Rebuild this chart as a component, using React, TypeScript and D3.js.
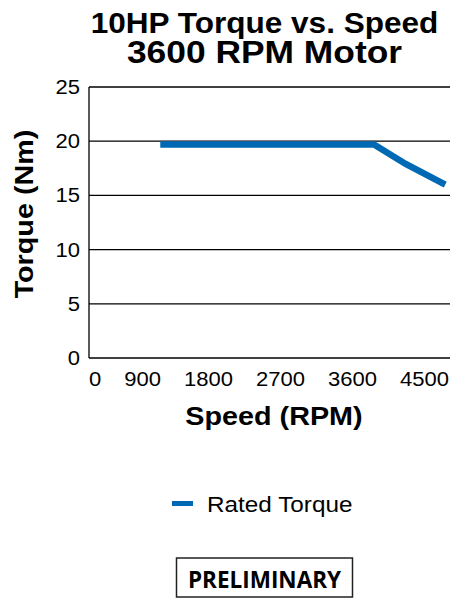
import React from "react";
import * as d3 from "d3";

const titleLines = ["10HP Torque vs. Speed", "3600 RPM Motor"];
const speedRpm = [900, 3600, 4000, 4500];
const ratedTorque = [19.7, 19.7, 17.9, 16.0];
const yTicks = [0, 5, 10, 15, 20, 25];
const xTickLabels = ["0", "900", "1800", "2700", "3600", "4500"];
const xTitle = "Speed (RPM)";
const yTitle = "Torque (Nm)";
const legendLabel = "Rated Torque";
const stampText = "PRELIMINARY";

const W = 451;
const H = 599;
const FONT = "'Liberation Sans', Arial, Helvetica, sans-serif";
const BLUE = "#0069b4";
const SX = 1.13; // horizontal widening to mimic the wider source font

export default function App() {
  const left = 89;
  const right = 450;
  const top = 87;
  const bottom = 358;

  const x = d3.scaleLinear().domain([0, 4560]).range([left, right]);
  const y = d3.scaleLinear().domain([0, 25]).range([bottom, top]);

  const pts: [number, number][] = speedRpm.map((s, i) => [s, ratedTorque[i]]);
  const line = d3
    .line<[number, number]>()
    .x((d) => x(d[0]))
    .y((d) => y(d[1]));

  // x tick labels: laid out with equal gaps across the axis width
  const tickFont = 19.5;
  const digitW = 0.556 * tickFont * SX;
  const widths = xTickLabels.map((l) => l.length * digitW);
  const totalW = d3.sum(widths);
  const gap = (449 - left - totalW) / (xTickLabels.length - 1);
  let cursor = left;
  const xLabelPos = widths.map((w) => {
    const c = cursor + w / 2;
    cursor += w + gap;
    return c;
  });

  return (
    <svg
      width={W}
      height={H}
      style={{ position: "absolute", left: 0, top: 0, background: "#fff" }}
      fontFamily={FONT}
    >
      <rect width={W} height={H} fill="#fff" />
      {/* title */}
      <text
        transform={`translate(264.5,32.5) scale(1.07,1)`}
        textAnchor="middle"
        fontSize={29.5}
        fontWeight="bold"
        fill="#000"
      >
        {titleLines[0]}
      </text>
      <text
        transform={`translate(264.5,63) scale(1.16,1)`}
        textAnchor="middle"
        fontSize={30.5}
        fontWeight="bold"
        fill="#000"
      >
        {titleLines[1]}
      </text>

      {/* gridlines */}
      {yTicks.map((t) => (
        <line
          key={"g" + t}
          x1={left}
          x2={right}
          y1={y(t)}
          y2={y(t)}
          stroke="#000"
          strokeWidth={1.3}
        />
      ))}
      <line x1={left} x2={left} y1={y(25)} y2={y(0)} stroke="#000" strokeWidth={1.3} />

      {/* y tick labels */}
      {yTicks.map((t) => (
        <text
          key={"yl" + t}
          transform={`translate(80,${y(t) + 7}) scale(${SX},1)`}
          textAnchor="end"
          fontSize={tickFont}
          fill="#000"
        >
          {t}
        </text>
      ))}

      {/* x tick labels */}
      {xTickLabels.map((l, i) => (
        <text
          key={"xl" + l}
          transform={`translate(${xLabelPos[i]},386) scale(${SX},1)`}
          textAnchor="middle"
          fontSize={tickFont}
          fill="#000"
        >
          {l}
        </text>
      ))}

      {/* axis titles */}
      <text
        transform={`translate(274,425) scale(1.15,1)`}
        textAnchor="middle"
        fontSize={25}
        fontWeight="bold"
        fill="#000"
      >
        {xTitle}
      </text>
      <text
        transform={`translate(33,214) rotate(-90) scale(1.15,1)`}
        textAnchor="middle"
        fontSize={25}
        fontWeight="bold"
        fill="#000"
      >
        {yTitle}
      </text>

      {/* data line */}
      <path
        d={line(pts) || ""}
        fill="none"
        stroke={BLUE}
        strokeWidth={6.5}
        strokeLinecap="butt"
        strokeLinejoin="miter"
      />

      {/* legend */}
      <rect x={172} y={501} width={21} height={5} fill={BLUE} />
      <text
        transform={`translate(207,512) scale(1.13,1)`}
        fontSize={21.5}
        fill="#000"
      >
        {legendLabel}
      </text>

      {/* preliminary stamp */}
      <rect
        x={176.5}
        y={558}
        width={176}
        height={39}
        fill="none"
        stroke="#222"
        strokeWidth={1.5}
      />
      <text
        x={264.5}
        y={588}
        textAnchor="middle"
        fontSize={22.5}
        fontWeight="bold"
        fontFamily="'Open Sans', 'Noto Sans', sans-serif"
        fill="#000"
      >
        {stampText}
      </text>
    </svg>
  );
}
